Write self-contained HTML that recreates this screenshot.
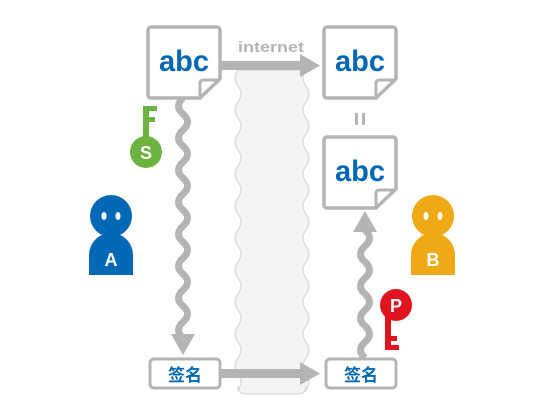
<!DOCTYPE html>
<html><head><style>body{margin:0;background:#fff}svg{display:block}</style></head><body>
<svg width="542" height="420" viewBox="0 0 542 420" xmlns="http://www.w3.org/2000/svg" font-family="Liberation Sans, 'Noto Sans CJK SC', sans-serif">
<defs>
<g id="doc">
<path d="M3,0 H69 a3,3 0 0 1 3,3 V52 L52,71 H3 a3,3 0 0 1 -3,-3 V3 a3,3 0 0 1 3,-3z" fill="#fff" stroke="#b4b4b4" stroke-width="3.5"/>
<path d="M52,71 V56 a3,3 0 0 1 3,-3 H72" fill="none" stroke="#b4b4b4" stroke-width="3"/>
<text x="36" y="44" text-anchor="middle" font-size="30" font-weight="bold" fill="#0068b4" textLength="50" lengthAdjust="spacingAndGlyphs">abc</text>
</g>
</defs>
<path d="M238,70 q-6,8 0,16 q6,8 0,16 q-6,8 0,16 q6,8 0,16 q-6,8 0,16 q6,8 0,16 q-6,8 0,16 q6,8 0,16 q-6,8 0,16 q6,8 0,16 q-6,8 0,16 q6,8 0,16 q-6,8 0,16 q6,8 0,16 q-6,8 0,16 q6,8 0,16 q-6,8 0,16 q6,8 0,16 q-6,8 0,16 q6,8 0,16 V386 q0,8 8,8 H298 q8,0 8,-8 V390 q6,-8 0,-16 q-6,-8 0,-16 q6,-8 0,-16 q-6,-8 0,-16 q6,-8 0,-16 q-6,-8 0,-16 q6,-8 0,-16 q-6,-8 0,-16 q6,-8 0,-16 q-6,-8 0,-16 q6,-8 0,-16 q-6,-8 0,-16 q6,-8 0,-16 q-6,-8 0,-16 q6,-8 0,-16 q-6,-8 0,-16 q6,-8 0,-16 q-6,-8 0,-16 q6,-8 0,-16 q-6,-8 0,-16 z" fill="#f4f4f4" stroke="#d8d8d8" stroke-width="1.2"/>
<text x="271" y="52" text-anchor="middle" font-size="15" font-weight="bold" fill="#b4b4b4" textLength="66" lengthAdjust="spacingAndGlyphs">internet</text>
<rect x="218" y="61" width="84" height="9" fill="#b4b4b4"/>
<path d="M300,54 L320,65.5 L300,77z" fill="#b4b4b4"/>
<rect x="218" y="369" width="84" height="9" fill="#b4b4b4"/>
<path d="M300,362 L320,373.5 L300,385z" fill="#b4b4b4"/>
<path d="M183,98 q-9,8 0,16 q9,8 0,16 q-9,8 0,16 q9,8 0,16 q-9,8 0,16 q9,8 0,16 q-9,8 0,16 q9,8 0,16 q-9,8 0,16 q9,8 0,16 q-9,8 0,16 q9,8 0,16 q-9,8 0,16 q9,8 0,16 q-9,8 0,16 V340" fill="none" stroke="#b4b4b4" stroke-width="7"/>
<path d="M171,334 H195 L183,355z" fill="#b4b4b4"/>
<path d="M372,358 q-9,-8 0,-16 q9,-8 0,-16 q-9,-8 0,-16 q9,-8 0,-16 q-9,-8 0,-16 q9,-8 0,-16 q-9,-8 0,-16 q9,-8 0,-16 V228" fill="none" stroke="#b4b4b4" stroke-width="7" transform="translate(-7,0)"/>
<path d="M353,232 H377 L365,211z" fill="#b4b4b4"/>
<use href="#doc" x="148" y="27"/>
<use href="#doc" x="324" y="27"/>
<use href="#doc" x="324" y="137"/>
<rect x="355" y="113" width="3" height="12" fill="#b4b4b4"/>
<rect x="362" y="113" width="3" height="12" fill="#b4b4b4"/>
<rect x="150" y="359" width="70" height="29" rx="4" fill="#fff" stroke="#b4b4b4" stroke-width="3"/>
<text x="185" y="381" text-anchor="middle" font-size="17" font-weight="bold" fill="#0068b4">签名</text>
<rect x="326" y="359" width="70" height="29" rx="4" fill="#fff" stroke="#b4b4b4" stroke-width="3"/>
<text x="361" y="381" text-anchor="middle" font-size="17" font-weight="bold" fill="#0068b4">签名</text>
<circle cx="111" cy="216" r="21" fill="#0068b4"/>
<path d="M89,275 V255 a22,22 0 0 1 44,0 V275z" fill="#0068b4"/>
<ellipse cx="104" cy="216" rx="2.5" ry="4" fill="#fff"/><ellipse cx="118" cy="216" rx="2.5" ry="4" fill="#fff"/>
<text x="111" y="266" text-anchor="middle" font-size="18" font-weight="bold" fill="#fff">A</text>
<circle cx="433" cy="216" r="21" fill="#f0a914"/>
<path d="M411,275 V255 a22,22 0 0 1 44,0 V275z" fill="#f0a914"/>
<ellipse cx="426" cy="216" rx="2.5" ry="4" fill="#fff"/><ellipse cx="440" cy="216" rx="2.5" ry="4" fill="#fff"/>
<text x="433" y="266" text-anchor="middle" font-size="18" font-weight="bold" fill="#fff">B</text>
<rect x="143" y="106" width="6" height="34" fill="#6db33f"/>
<rect x="143" y="106" width="14" height="5" fill="#6db33f"/>
<rect x="143" y="117" width="12" height="5" fill="#6db33f"/>
<circle cx="146" cy="152" r="16" fill="#6db33f"/>
<text x="146" y="159" text-anchor="middle" font-size="18" font-weight="bold" fill="#fff">S</text>
<rect x="385" y="310" width="6" height="40" fill="#e0141e"/>
<rect x="385" y="345" width="14" height="5" fill="#e0141e"/>
<rect x="385" y="336" width="12" height="5" fill="#e0141e"/>
<circle cx="396" cy="305" r="16" fill="#e0141e"/>
<text x="396" y="312" text-anchor="middle" font-size="18" font-weight="bold" fill="#fff">P</text>
</svg>
</body></html>
